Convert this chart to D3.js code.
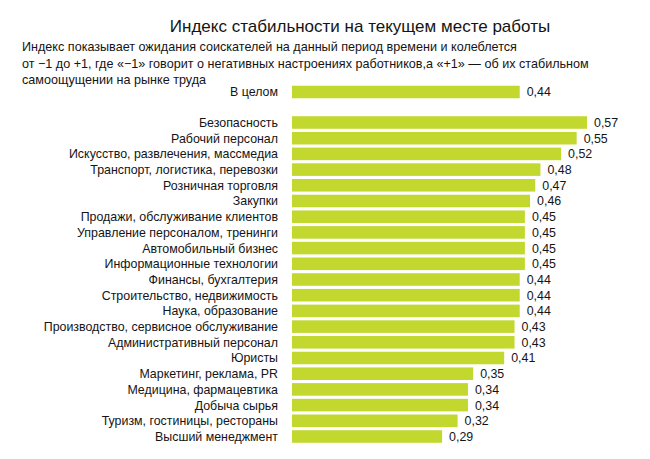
<!DOCTYPE html>
<html><head><meta charset="utf-8">
<script src="https://cdn.jsdelivr.net/npm/d3@7"></script>
<style>body{margin:0;background:#fff}svg{display:block}</style>
</head><body>
<svg id="c" width="650" height="459"></svg>
<script>
const title = "Индекс стабильности на текущем месте работы";
const subtitle = ["Индекс показывает ожидания соискателей на данный период времени и колеблется",
  "от −1 до +1, где «−1» говорит о негативных настроениях работников,а «+1» — об их стабильном",
  "самоощущении на рынке труда"];
const totalLabel = "В целом";
const totalValue = 0.44;
const categories = ["Безопасность","Рабочий персонал","Искусство, развлечения, массмедиа","Транспорт, логистика, перевозки","Розничная торговля","Закупки","Продажи, обслуживание клиентов","Управление персоналом, тренинги","Автомобильный бизнес","Информационные технологии","Финансы, бухгалтерия","Строительство, недвижимость","Наука,  образование","Производство, сервисное обслуживание","Административный персонал","Юристы","Маркетинг, реклама, PR","Медицина, фармацевтика","Добыча сырья","Туризм, гостиницы, рестораны","Высший менеджмент"];
const values = [0.57,0.55,0.52,0.48,0.47,0.46,0.45,0.45,0.45,0.45,0.44,0.44,0.44,0.43,0.43,0.41,0.35,0.34,0.34,0.32,0.29];

const svg = d3.select("#c");
const font = "'Liberation Sans',Arial,sans-serif";
const x = d3.scaleLinear().domain([0, 0.57]).range([292, 587]);
const y = d3.scaleBand().domain(categories).range([114.65, 444.35]).paddingInner(0.2).paddingOuter(0.1);
const yT = d3.scaleBand().domain([totalLabel]).range([84.15, 99.85]).paddingInner(0.2).paddingOuter(0.1);
const color = "#c2d82f";
const ink = "#141414";

svg.append("text").attr("x", 360).attr("y", 32).attr("text-anchor","middle")
  .attr("font-family", font).attr("font-size", 17).attr("fill", ink).text(title);
svg.append("g").selectAll("text").data(subtitle).join("text")
  .attr("x", 22).attr("y", (d,i)=>51+i*16.5).attr("font-family", font).attr("font-size", 12.6).attr("fill", ink).text(d=>d);

function draw(g, data, ys){
  g.selectAll("rect").data(data).join("rect")
    .attr("x", x(0)).attr("y", d=>ys(d[0])).attr("width", d=>x(d[1])-x(0)).attr("height", ys.bandwidth()).attr("fill", color);
  g.selectAll("text.l").data(data).join("text").attr("class","l")
    .attr("x", 278).attr("y", d=>ys(d[0])+ys.bandwidth()/2).attr("dy","0.36em").attr("text-anchor","end")
    .attr("font-family", font).attr("font-size", 12.4).attr("fill", ink).text(d=>d[0]);
  g.selectAll("text.v").data(data).join("text").attr("class","v")
    .attr("x", d=>x(d[1])+7).attr("y", d=>ys(d[0])+ys.bandwidth()/2).attr("dy","0.36em")
    .attr("font-family", font).attr("font-size", 12.4).attr("fill", ink).text(d=>d3.format(".2f")(d[1]).replace(".",","));
}
draw(svg.append("g"), [[totalLabel,totalValue]], yT);
draw(svg.append("g"), categories.map((c,i)=>[c,values[i]]), y);
</script>
</body></html>
